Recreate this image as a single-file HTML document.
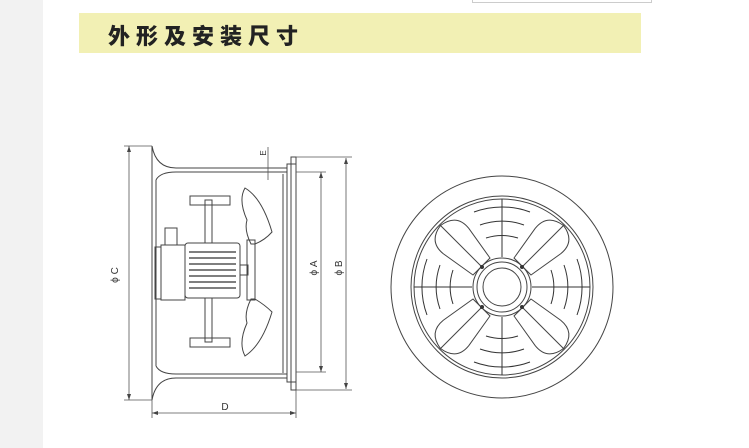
<!DOCTYPE html>
<html><head><meta charset="utf-8"><style>
body{margin:0;width:749px;height:448px;background:#fff;overflow:hidden;position:relative;font-family:"Liberation Sans","Noto Sans CJK SC",sans-serif}
.gray{position:absolute;left:0;top:0;width:43px;height:448px;background:#f2f2f2}
.band{position:absolute;left:79px;top:13px;width:562px;height:40px;background:#f2f0b4}
.title{position:absolute;left:108px;top:19px;font-size:22px;font-weight:900;letter-spacing:6px;color:#222;font-family:"Noto Sans CJK SC",sans-serif}
.topbox{position:absolute;left:472px;top:-1px;width:178px;height:3px;border:1px solid #ccc;border-top:none}
svg{position:absolute;left:0;top:0}
</style></head><body>
<div class="gray"></div>
<div class="topbox"></div>
<div class="band"></div>
<div class="title">外形及安装尺寸</div>
<svg width="749" height="448" viewBox="0 0 749 448" fill="none" stroke="#444" stroke-width="1">
<!-- casing -->
<path d="M152 146 Q156 168 176 168 L287 168 L287 172 L176 172 Q160 172 156 180"/>
<path d="M152 400 Q156 378 176 378 L287 378 L287 374 L176 374 Q160 374 156 366"/>
<line x1="152" y1="146" x2="152" y2="400"/>
<line x1="156" y1="180" x2="156" y2="366"/>
<rect x="287" y="164" width="9" height="218"/>
<rect x="291" y="157" width="5" height="233"/>
<line x1="283" y1="174" x2="283" y2="373"/>
<!-- dims -->
<g stroke="#555" stroke-width="0.8">
<line x1="129" y1="146" x2="129" y2="400"/><line x1="124" y1="146" x2="152" y2="146"/><line x1="124" y1="400" x2="152" y2="400"/>
<line x1="152" y1="413" x2="296" y2="413"/><line x1="152" y1="400" x2="152" y2="418"/><line x1="296" y1="390" x2="296" y2="418"/>
<line x1="321" y1="172" x2="321" y2="372"/><line x1="296" y1="172" x2="326" y2="172"/><line x1="296" y1="372" x2="326" y2="372"/>
<line x1="346" y1="158" x2="346" y2="389"/><line x1="296" y1="157" x2="352" y2="157"/><line x1="296" y1="390" x2="352" y2="390"/>
<line x1="268" y1="147" x2="268" y2="180"/>
</g>
<g fill="#444" stroke="none">
<path d="M129 146l-2 6h4z M129 400l-2 -6h4z M152 413l6 -2v4z M296 413l-6 -2v4z M321 172l-2 6h4z M321 372l-2 -6h4z M346 158l-2 6h4z M346 389l-2 -6h4z"/>
</g>
<g fill="#333" stroke="none" font-size="10" font-family="Liberation Sans">
<text x="118" y="275" transform="rotate(-90 118 275)" text-anchor="middle">ϕ C</text>
<text x="317" y="268" transform="rotate(-90 317 268)" text-anchor="middle">ϕ A</text>
<text x="342" y="268" transform="rotate(-90 342 268)" text-anchor="middle">ϕ B</text>
<text x="266" y="153" transform="rotate(-90 266 153)" text-anchor="middle" font-size="8">E</text>
<text x="225" y="410" text-anchor="middle">D</text>
</g>
<!-- motor -->
<rect x="205" y="200" width="7" height="142"/>
<rect x="190" y="196" width="40" height="9"/><rect x="190" y="338" width="40" height="9"/>
<rect x="155" y="247" width="6" height="52"/>
<rect x="161" y="245" width="24" height="55"/>
<rect x="165" y="228" width="12" height="17"/>
<rect x="185" y="243" width="55" height="55" rx="3" fill="#fff"/>
<g stroke="#555" stroke-width="1.5"><line x1="189" y1="252" x2="236" y2="252"/><line x1="189" y1="258" x2="236" y2="258"/><line x1="189" y1="264" x2="236" y2="264"/><line x1="189" y1="270" x2="236" y2="270"/><line x1="189" y1="276" x2="236" y2="276"/><line x1="189" y1="282" x2="236" y2="282"/><line x1="189" y1="288" x2="236" y2="288"/></g>
<rect x="240" y="265" width="8" height="10"/>
<rect x="247" y="240" width="8" height="60"/>
<path d="M251 244 Q244 230 247 220 Q238 200 245 188 Q262 198 272 232 Q265 240 255 244z"/>
<path d="M251 299 Q244 313 247 323 Q238 343 245 356 Q262 345 272 312 Q265 305 255 299z"/>
<!-- front view -->
<circle cx="502" cy="287" r="111"/>
<circle cx="502" cy="287" r="91"/>
<circle cx="502" cy="287" r="88"/>
<g stroke="#333">
<path d="M474 212 A80 80 0 0 1 530 212 M480 225 A66 66 0 0 1 524 225 M486 238 A53 53 0 0 1 518 238"/>
<path d="M474 362 A80 80 0 0 0 530 362 M480 349 A66 66 0 0 0 524 349 M486 336 A53 53 0 0 0 518 336"/>
<path d="M427 259 A80 80 0 0 0 427 315 M440 265 A66 66 0 0 0 440 309 M453 270 A53 53 0 0 0 453 304"/>
<path d="M577 259 A80 80 0 0 1 577 315 M564 265 A66 66 0 0 1 564 309 M551 270 A53 53 0 0 1 551 304"/>
<line x1="502" y1="199" x2="502" y2="257"/><line x1="502" y1="317" x2="502" y2="375"/>
<line x1="414" y1="287" x2="472" y2="287"/><line x1="532" y1="287" x2="590" y2="287"/>
</g>
<g fill="#fff">
<g transform="rotate(-45 502 287)"><path d="M490 258 L484 222 Q482 203 502 200 Q522 203 520 222 L514 258z"/><line x1="502" y1="199" x2="502" y2="258"/></g>
<g transform="rotate(45 502 287)"><path d="M490 258 L484 222 Q482 203 502 200 Q522 203 520 222 L514 258z"/><line x1="502" y1="199" x2="502" y2="258"/></g>
<g transform="rotate(135 502 287)"><path d="M490 258 L484 222 Q482 203 502 200 Q522 203 520 222 L514 258z"/><line x1="502" y1="199" x2="502" y2="258"/></g>
<g transform="rotate(-135 502 287)"><path d="M490 258 L484 222 Q482 203 502 200 Q522 203 520 222 L514 258z"/><line x1="502" y1="199" x2="502" y2="258"/></g>
</g>
<circle cx="502" cy="287" r="29" fill="#fff"/>
<circle cx="502" cy="287" r="25"/>
<circle cx="502" cy="287" r="19"/>
<g fill="#333" stroke="none"><circle cx="482" cy="267" r="2"/><circle cx="522" cy="267" r="2"/><circle cx="482" cy="307" r="2"/><circle cx="522" cy="307" r="2"/></g>
</svg>
</body></html>
